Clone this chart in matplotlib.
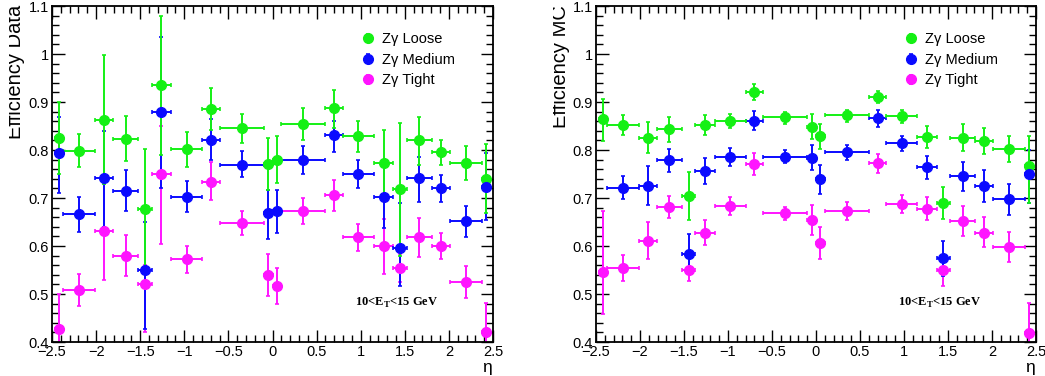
"""Z gamma photon ID efficiency vs eta, data and MC"""
import numpy as np
import matplotlib
matplotlib.use('Agg')
import matplotlib.pyplot as plt
from matplotlib.ticker import MultipleLocator, FuncFormatter
from matplotlib.container import ErrorbarContainer
from matplotlib.legend_handler import HandlerErrorbar
from matplotlib.transforms import Bbox, TransformedBbox

plt.rcParams['font.family'] = ['Liberation Sans', 'DejaVu Sans']
plt.rcParams['mathtext.fontset'] = 'custom'
plt.rcParams['mathtext.rm'] = 'Liberation Serif:bold'
plt.rcParams['mathtext.bf'] = 'Liberation Serif:bold'

# eta bin edges
eta_edges = np.array([-2.47, -2.37, -2.01, -1.81, -1.52, -1.37, -1.15, -0.8, -0.6, -0.1, 0.0,
                      0.1, 0.6, 0.8, 1.15, 1.37, 1.52, 1.81, 2.01, 2.37, 2.47])

# data
data_loose = [0.825, 0.798, 0.862, 0.823, 0.678, 0.935, 0.802, 0.885, 0.845, 0.770,
              0.780, 0.854, 0.887, 0.829, 0.773, 0.719, 0.820, 0.795, 0.773, 0.739]
data_loose_up = [0.900, 0.833, 0.998, 0.870, 0.803, 1.080, 0.838, 0.930, 0.875, 0.824,
                 0.829, 0.887, 0.925, 0.861, 0.841, 0.857, 0.869, 0.820, 0.808, 0.812]
data_loose_lo = [0.749, 0.765, 0.730, 0.777, 0.553, 0.790, 0.765, 0.841, 0.815, 0.716,
                 0.732, 0.820, 0.846, 0.796, 0.702, 0.579, 0.768, 0.768, 0.737, 0.668]

data_medium = [0.793, 0.666, 0.742, 0.715, 0.551, 0.880, 0.702, 0.820, 0.768, 0.668,
               0.672, 0.779, 0.831, 0.751, 0.702, 0.596, 0.741, 0.720, 0.652, 0.723]
data_medium_up = [0.869, 0.702, 0.840, 0.758, 0.650, 1.036, 0.735, 0.864, 0.798, 0.716,
                  0.716, 0.809, 0.860, 0.780, 0.768, 0.690, 0.786, 0.748, 0.683, 0.793]
data_medium_lo = [0.711, 0.629, 0.640, 0.672, 0.428, 0.720, 0.670, 0.780, 0.743, 0.615,
                  0.628, 0.750, 0.796, 0.721, 0.637, 0.516, 0.692, 0.692, 0.619, 0.654]

data_tight = [0.428, 0.509, 0.631, 0.579, 0.520, 0.751, 0.572, 0.734, 0.648, 0.540,
              0.517, 0.672, 0.706, 0.618, 0.599, 0.555, 0.618, 0.599, 0.526, 0.421]
data_tight_up = [0.499, 0.541, 0.730, 0.622, 0.560, 0.850, 0.600, 0.774, 0.673, 0.584,
                 0.554, 0.699, 0.738, 0.645, 0.657, 0.584, 0.659, 0.628, 0.558, 0.481]
data_tight_lo = [0.360, 0.474, 0.530, 0.537, 0.421, 0.605, 0.544, 0.695, 0.622, 0.496,
                 0.479, 0.645, 0.672, 0.590, 0.541, 0.525, 0.577, 0.572, 0.492, 0.360]

# MC
mc_loose = [0.864, 0.852, 0.826, 0.843, 0.704, 0.852, 0.861, 0.921, 0.868, 0.848,
            0.829, 0.872, 0.911, 0.871, 0.827, 0.690, 0.826, 0.819, 0.802, 0.767]
mc_loose_up = [0.907, 0.873, 0.859, 0.868, 0.754, 0.873, 0.876, 0.937, 0.880, 0.874,
               0.854, 0.884, 0.923, 0.884, 0.850, 0.723, 0.854, 0.845, 0.829, 0.829]
mc_loose_lo = [0.819, 0.831, 0.794, 0.817, 0.654, 0.831, 0.845, 0.905, 0.854, 0.822,
               0.803, 0.859, 0.897, 0.857, 0.804, 0.656, 0.798, 0.791, 0.775, 0.690]

mc_medium = [np.nan, 0.721, 0.725, 0.779, 0.584, 0.757, 0.786, 0.861, 0.786, 0.784,
             0.739, 0.795, 0.866, 0.814, 0.764, 0.574, 0.745, 0.725, 0.697, 0.749]
mc_medium_up = [np.nan, 0.745, 0.767, 0.803, 0.624, 0.784, 0.805, 0.881, 0.801, 0.810,
                0.768, 0.810, 0.883, 0.829, 0.787, 0.611, 0.775, 0.759, 0.729, 0.800]
mc_medium_lo = [np.nan, 0.697, 0.685, 0.754, 0.544, 0.729, 0.766, 0.841, 0.772, 0.758,
                0.709, 0.780, 0.848, 0.798, 0.739, 0.537, 0.715, 0.692, 0.664, 0.690]

mc_tight = [0.546, 0.554, 0.611, 0.681, 0.551, 0.628, 0.684, 0.770, 0.668, 0.654,
            0.606, 0.673, 0.772, 0.687, 0.678, 0.549, 0.652, 0.628, 0.598, 0.419]
mc_tight_up = [0.673, 0.581, 0.649, 0.704, 0.579, 0.654, 0.702, 0.794, 0.681, 0.686,
               0.640, 0.691, 0.791, 0.706, 0.702, 0.574, 0.684, 0.661, 0.629, 0.481]
mc_tight_lo = [0.459, 0.527, 0.572, 0.659, 0.527, 0.602, 0.664, 0.748, 0.654, 0.622,
               0.572, 0.655, 0.752, 0.668, 0.654, 0.516, 0.621, 0.597, 0.567, 0.360]

labels = ['Z\u03b3 Loose', 'Z\u03b3 Medium', 'Z\u03b3 Tight']
colors = ['#14f014', '#0a0aff', '#ff14ff']

eta_c = 0.5 * (eta_edges[1:] + eta_edges[:-1])
eta_hw = 0.5 * (eta_edges[1:] - eta_edges[:-1])

W, H = 1045, 376
fig = plt.figure(figsize=(W / 100, H / 100), dpi=100)


def fmt(v, p):
    return ('%g' % round(v, 3)).replace('-', '\u2212')


def draw_panel(ax, series, ylab, lab_x, clip_x):
    for i, (v, up, lo) in enumerate(series):
        v = np.array(v)
        yerr = [v - np.array(lo), np.array(up) - v]
        c = ax.errorbar(eta_c, v, xerr=eta_hw, yerr=yerr, fmt='o', color=colors[i],
                        ms=7, elinewidth=1.4, capsize=1.3, capthick=1.2,
                        label=labels[i])
        c[0].set_zorder(5 + i)
        for art in c[1] + c[2]:
            art.set_zorder(4 - i)
    ax.set_xlim(-2.5, 2.5)
    ax.set_ylim(0.4, 1.1)
    ax.xaxis.set_major_locator(MultipleLocator(0.5))
    ax.xaxis.set_minor_locator(MultipleLocator(0.1))
    ax.yaxis.set_major_locator(MultipleLocator(0.1))
    ax.yaxis.set_minor_locator(MultipleLocator(0.02))
    ax.xaxis.set_major_formatter(FuncFormatter(fmt))
    ax.yaxis.set_major_formatter(FuncFormatter(fmt))
    ax.tick_params(which='both', direction='in', top=True, right=True, width=1.0,
                   labelsize=10.5, color='black')
    ax.tick_params(which='major', length=9)
    ax.tick_params(which='minor', length=5)
    ax.tick_params(axis='x', pad=2)
    ax.tick_params(axis='y', pad=2)
    for s in ax.spines.values():
        s.set_linewidth(1.3)

    ax.legend(loc='upper left', bbox_to_anchor=(0.70, 0.922), frameon=False,
              fontsize=10.5, handlelength=1.0, handletextpad=0.45,
              borderpad=0, borderaxespad=0, labelspacing=0.45, numpoints=1,
              handler_map={ErrorbarContainer: HandlerErrorbar(xerr_size=0, yerr_size=0.3)})

    ax.text(0.782, 0.116, r'10<E$_{\mathbf{T}}$<15 GeV', transform=ax.transAxes,
            family='Liberation Serif', fontweight='bold', fontsize=9,
            ha='center', va='center')

    t = fig.text(lab_x / W, 1 - 5 / H, ylab, rotation=90, rotation_mode='anchor',
                 ha='right', va='baseline', fontsize=14.5)
    t.set_clip_box(TransformedBbox(Bbox([[clip_x / W, 0], [(clip_x + 300) / W, 1]]),
                                   fig.transFigure))
    t.set_clip_on(True)


ax1 = fig.add_axes([52 / W, 34 / H, 441 / W, 336 / H])
ax2 = fig.add_axes([596 / W, 34 / H, 440 / W, 336 / H])

draw_panel(ax1, [(data_loose, data_loose_up, data_loose_lo),
                 (data_medium, data_medium_up, data_medium_lo),
                 (data_tight, data_tight_up, data_tight_lo)],
           'Efficiency Data', 21, 9)
draw_panel(ax2, [(mc_loose, mc_loose_up, mc_loose_lo),
                 (mc_medium, mc_medium_up, mc_medium_lo),
                 (mc_tight, mc_tight_up, mc_tight_lo)],
           'Efficiency MC', 566, 553)

fig.text(487 / W, 1 / H, '\u03b7', fontsize=12.5, ha='center', va='bottom')
fig.text(1030 / W, 1 / H, '\u03b7', fontsize=12.5, ha='center', va='bottom')

fig.savefig('out.png', dpi=100)
